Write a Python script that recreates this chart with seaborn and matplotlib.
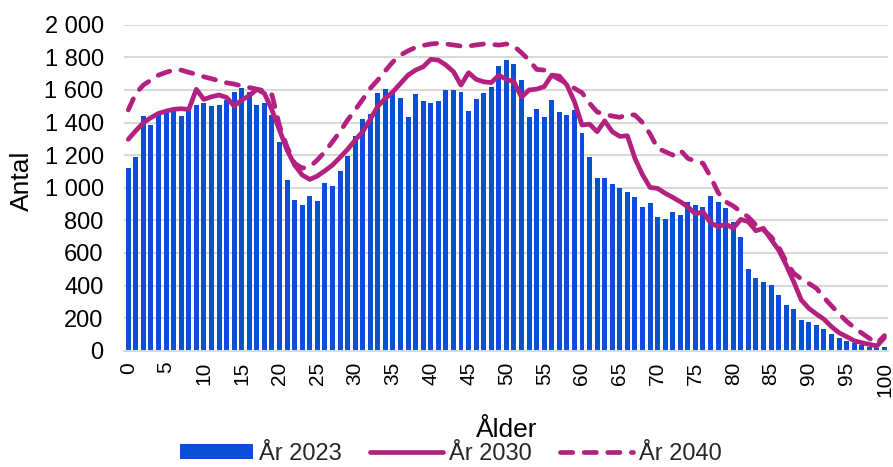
import numpy as np
import pandas as pd
import matplotlib
matplotlib.use("Agg")
import matplotlib.pyplot as plt
import seaborn as sns
from matplotlib.ticker import FuncFormatter, MultipleLocator
from matplotlib.patches import Patch
from matplotlib.lines import Line2D

ages = list(range(0, 101))

ar_2023 = [1123, 1190, 1440, 1385, 1450, 1470, 1470, 1440, 1470, 1507,
           1520, 1500, 1507, 1538, 1589, 1610, 1589, 1507, 1518, 1446,
           1282, 1045, 925, 894, 949, 920, 1029, 1008, 1102, 1196,
           1317, 1419, 1450, 1579, 1605, 1589, 1552, 1434, 1575, 1534,
           1518, 1530, 1599, 1597, 1589, 1469, 1544, 1581, 1616, 1745,
           1783, 1759, 1659, 1432, 1481, 1432, 1538, 1464, 1444, 1477,
           1336, 1188, 1062, 1062, 1025, 998, 972, 943, 882, 904,
           822, 808, 849, 831, 910, 894, 882, 949, 912, 878,
           788, 698, 501, 448, 421, 403, 342, 280, 256, 190,
           176, 156, 133, 104, 80, 60, 45, 35, 25, 18,
           25]

ar_2030 = [1297, 1350, 1399, 1430, 1456, 1470, 1481, 1485, 1480, 1604,
           1542, 1558, 1569, 1554, 1501, 1538, 1565, 1604, 1579, 1477,
           1354, 1231, 1139, 1078, 1051, 1072, 1104, 1139, 1186, 1235,
           1292, 1344, 1420, 1500, 1548, 1589, 1640, 1691, 1722, 1742,
           1788, 1783, 1753, 1712, 1630, 1706, 1665, 1650, 1645, 1690,
           1665, 1650, 1555, 1600, 1605, 1620, 1691, 1685, 1630, 1528,
           1385, 1390, 1344, 1410, 1344, 1315, 1319, 1180, 1080, 1002,
           996, 966, 941, 914, 883, 839, 853, 785, 761, 777,
           751, 806, 791, 736, 751, 683, 618, 526, 423, 311,
           260, 225, 193, 147, 110, 86, 61, 49, 39, 29,
           80]

ar_2040 = [1477, 1579, 1630, 1661, 1691, 1708, 1722, 1722, 1708, 1696,
           1681, 1669, 1656, 1644, 1636, 1624, 1615, 1605, 1595, 1570,
           1380, 1250, 1150, 1120, 1129, 1170, 1221, 1282, 1344, 1415,
           1477, 1542, 1610, 1661, 1718, 1773, 1814, 1840, 1861, 1873,
           1882, 1886, 1882, 1876, 1869, 1869, 1876, 1882, 1880, 1875,
           1882, 1869, 1828, 1783, 1726, 1722, 1691, 1665, 1640, 1610,
           1583, 1518, 1465, 1450, 1440, 1432, 1450, 1446, 1400, 1330,
           1242, 1221, 1200, 1231, 1180, 1163, 1150, 1067, 970, 914,
           888, 853, 820, 771, 740, 700, 638, 546, 475, 440,
           413, 383, 326, 275, 226, 180, 142, 108, 76, 45,
           93]

tick_ages = list(range(0, 101, 5))
series_labels = ["År 2023", "År 2030", "År 2040"]

BLUE = "#0b4fd6"
MAG = "#b3207f"
GRID = "#d9d9d9"
LW = 3.4

sns.set_theme(style="white")
plt.rcParams["font.family"] = ["Liberation Sans", "DejaVu Sans"]

fig = plt.figure(figsize=(8.93, 4.67), dpi=100)
ax = fig.add_axes([0.1394, 0.249, 0.8553, 0.698])

df_bar = pd.DataFrame({"age": ages, "antal": ar_2023})
sns.barplot(data=df_bar, x="age", y="antal", color=BLUE, saturation=1,
            width=0.66, linewidth=0, ax=ax, zorder=2)

sns.lineplot(x=ages, y=ar_2030, color=MAG, linewidth=LW, ax=ax, zorder=3)
l30 = ax.lines[-1]
l30.set_solid_capstyle("round")
l30.set_solid_joinstyle("round")
sns.lineplot(x=ages, y=ar_2040, color=MAG, linewidth=LW, ax=ax, zorder=3)
l40 = ax.lines[-1]
l40.set_dashes([2.6, 2.4])
l40.set_dash_capstyle("round")
l40.set_dash_joinstyle("round")

if ax.get_legend() is not None:
    ax.get_legend().remove()

ax.set_xlim(-0.5, 100.5)
ax.set_ylim(0, 2000)
ax.yaxis.set_major_locator(MultipleLocator(200))
ax.yaxis.set_major_formatter(FuncFormatter(lambda v, p: f"{v:,.0f}".replace(",", " ")))
ax.grid(axis="y", color=GRID, linewidth=1.5, zorder=0)
ax.grid(axis="x", visible=False)
ax.set_axisbelow(True)
for s in ["top", "right", "left"]:
    ax.spines[s].set_visible(False)
ax.spines["bottom"].set_color(GRID)
ax.spines["bottom"].set_linewidth(1.5)

ax.set_xticks(tick_ages)
ax.set_xticklabels([str(a) for a in tick_ages], rotation=90, fontsize=15)
ax.tick_params(axis="x", length=0, pad=8, colors="black")
ax.tick_params(axis="y", length=0, pad=15, labelsize=17, colors="black")

ax.set_xlabel("Ålder", fontsize=19, color="black")
ax.xaxis.set_label_coords(0.5, -0.205)
ax.set_ylabel("Antal", fontsize=19, color="black")
ax.yaxis.set_label_coords(-0.118, 0.52)

handles = [
    Patch(facecolor=BLUE, edgecolor="none"),
    Line2D([0], [0], color=MAG, linewidth=LW, solid_capstyle="round"),
    Line2D([0], [0], color=MAG, linewidth=LW, dashes=[2.6, 2.4], dash_capstyle="round"),
]
fig.legend(handles, series_labels, loc="center", bbox_to_anchor=(0.505, 0.028),
           ncol=3, frameon=False, fontsize=17, handlelength=3.1, handleheight=0.6,
           handletextpad=0.25, columnspacing=1.2, borderpad=0.1)

fig.savefig("out.png", dpi=100)
